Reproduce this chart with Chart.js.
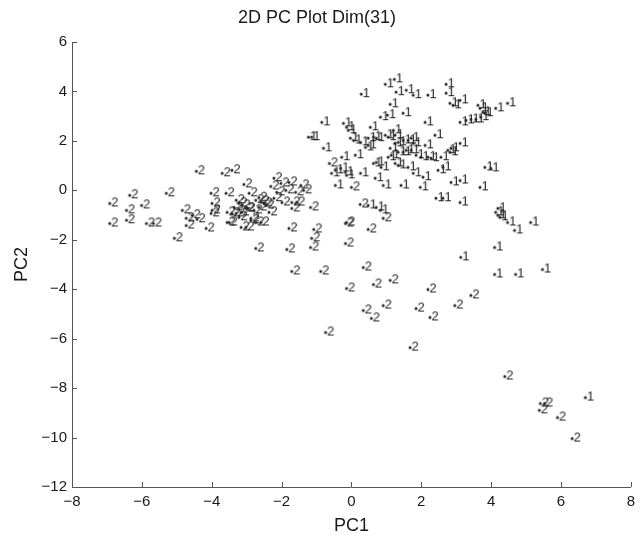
<!DOCTYPE html>
<html>
<head>
<meta charset="utf-8">
<script src="https://cdn.jsdelivr.net/npm/chart.js@4"></script>
<style>
  html, body { margin: 0; padding: 0; background: #fff; }
  #wrap { width: 641px; height: 538px; }
</style>
</head>
<body>
<div id="wrap"><canvas id="pcChart" width="641" height="538"></canvas></div>
<script>
// タイトル・軸ラベル
var chartTitle = "2D PC Plot Dim(31)";
var xLabel = "PC1";
var yLabel = "PC2";

// 目盛り
var xTicks = [-8, -6, -4, -2, 0, 2, 4, 6, 8];
var yTicks = [-12, -10, -8, -6, -4, -2, 0, 2, 4, 6];

// クラス1 (PC1, PC2)
var class1 = [
  [0.97,4.29],[1.23,4.49],[1.28,3.97],[1.57,4.05],[1.77,3.85],[2.19,3.85],[2.71,4.29],[2.71,3.93],
  [2.82,3.52],[2.91,3.44],[0.28,3.89],[1.11,3.48],[0.83,2.96],[1.03,3.04],[1.48,3.12],[2.11,2.75],
  [-0.85,2.75],[-1.23,2.15],[-1.14,2.15],[-0.23,2.71],[-0.14,2.55],[-0.09,2.43],[-0.03,2.11],
  [0.06,2.02],[0.26,1.94],[0.54,2.55],[0.48,2.11],[0.63,2.15],[0.71,2.11],[0.97,2.23],[1.05,2.15],
  [1.2,2.43],[1.25,2.23],[0.4,1.74],[0.48,1.82],[1.11,1.7],[1.25,1.9],[1.34,1.94],[1.48,2.02],
  [1.62,2.02],[1.71,2.11],[1.77,1.9],[1.14,1.42],[1.34,1.54],[1.48,1.54],[1.57,1.62],[1.71,1.62],
  [2.11,1.82],[2.39,2.23],[-0.8,1.7],[-0.28,1.34],[0.11,1.42],[-0.57,0.69],[-0.46,0.81],[-0.31,0.89],
  [-0.17,0.73],[-0.14,0.61],[0.26,0.69],[0.63,1.09],[0.71,1.13],[0.85,0.93],[1.05,1.34],[1.25,1.09],
  [1.34,1.01],[1.62,0.93],[1.85,1.42],[1.99,1.34],[2.19,1.34],[2.28,1.3],[2.56,1.34],[2.76,1.62],
  [2.85,1.7],[2.82,1.54],[2.48,0.81],[2.62,0.93],[1.77,0.69],[2.05,0.53],[0.68,0.49],[0.91,0.2],
  [1.42,0.2],[1.97,0.12],[-0.46,0.2],[2.42,-0.32],[2.62,-0.32],[2.85,0.32],[0.48,-0.61],[0.71,-0.69],
  [0.83,-0.81],[3.11,3.64],[3.62,3.44],[3.68,3.32],[3.76,3.16],[4.13,3.32],[4.47,3.52],[3.11,2.75],
  [3.28,2.83],[3.42,2.87],[3.56,2.87],[3.7,2.96],[3.82,3.12],[3.11,1.9],[3.82,0.93],[3.99,0.89],
  [3.11,0.4],[3.68,0.12],[3.11,-0.49],[4.13,-0.89],[4.19,-1.01],[4.19,-0.73],[4.25,-1.09],[4.47,-1.3],
  [4.67,-1.62],[5.13,-1.3],[4.1,-2.31],[3.13,-2.71],[4.1,-3.4],[4.7,-3.4],[5.47,-3.2],[6.7,-8.38]
];

// クラス2 (PC1, PC2)
var class2 = [
  [-6.92,-0.53],[-6.92,-1.34],[-6.35,-0.2],[-6.44,-0.81],[-6.44,-1.21],[-6.01,-0.61],[-5.87,-1.34],
  [-5.67,-1.34],[-5.3,-0.12],[-5.07,-1.94],[-4.44,0.77],[-4.84,-0.81],[-4.73,-1.13],[-4.56,-1.01],
  [-4.73,-1.42],[-4.42,-1.17],[-4.16,-1.54],[-4.02,-0.12],[-3.99,-0.53],[-3.99,-0.81],[-4.02,-0.93],
  [-3.7,0.69],[-3.42,0.81],[-3.59,-0.12],[-3.56,-0.89],[-3.5,-1.3],[-3.08,0.24],[-2.93,-0.12],
  [-3.3,-0.4],[-3.22,-0.53],[-3.13,-0.61],[-3.36,-0.69],[-3.42,-0.93],[-3.16,-0.89],[-3.22,-1.09],
  [-3.02,-0.73],[-2.88,-1.13],[-3.16,-1.5],[-3.02,-1.5],[-2.74,-2.35],[-2.79,-0.81],[-2.74,-0.4],
  [-2.65,-0.3],[-2.59,-0.45],[-2.5,-0.53],[-2.22,0.49],[-2.31,0.16],[-2.02,0.28],[-1.79,0.32],
  [-2.14,-0.08],[-1.88,0],[-1.45,0.2],[-1.37,0],[-1.6,-0.08],[-2.22,-0.32],[-1.99,-0.49],[-1.71,-0.49],
  [-1.57,-0.49],[-1.71,-0.73],[-1.17,-0.69],[-3.3,-0.93],[-2.99,-0.73],[-2.65,-0.69],[-2.45,-0.61],
  [-2.36,-0.89],[-3.56,-1.3],[-2.88,-1.21],[-2.74,-1.3],[-2.59,-1.3],[-1.79,-1.54],[-1.08,-1.58],
  [-1.14,-1.94],[-1.17,-2.31],[-1.85,-2.39],[-0.14,-1.3],[0.25,-0.57],[0,0.12],[-0.63,1.09],
  [0.91,-1.13],[-0.17,-1.34],[0.48,-1.58],[-0.17,-2.15],[0.34,-3.12],[-1.71,-3.28],[-0.88,-3.28],
  [-0.14,-3.97],[0.63,-3.81],[1.11,-3.64],[2.19,-4.01],[3.42,-4.25],[2.96,-4.66],[0.91,-4.66],
  [0.34,-4.86],[0.57,-5.18],[1.85,-4.78],[2.25,-5.14],[-0.74,-5.75],[1.68,-6.36],[4.39,-7.53],
  [5.41,-8.62],[5.53,-8.62],[5.38,-8.9],[5.9,-9.19],[6.32,-10.04]
];

var textColor = "#1a1a1a";
var axisColor = "#555";
var fontFamily = "'Liberation Sans', Arial, sans-serif";

// 点(・)と数字のマーカー画像を作る
function makeMarker(label){
    var c = document.createElement("canvas");
    c.width = 30;
    c.height = 20;
    var g = c.getContext("2d");
    g.fillStyle = "#222";
    g.beginPath();
    g.arc(15, 10, 1.5, 0, Math.PI * 2);
    g.fill();
    g.font = "13px " + fontFamily;
    g.textBaseline = "middle";
    g.fillText(label, 16.5, 9);
    return c;
}

function toXY(arr){
    return arr.map(function(p){ return {x: p[0], y: p[1]}; });
}

// マイナス記号を長めにする
function tickText(v){
    return v < 0 ? "\u2212" + Math.abs(v) : String(v);
}

// 内向きの目盛り線
var inwardTicks = {
    id: "inwardTicks",
    afterDraw: function(chart){
        var ctx = chart.ctx;
        var a = chart.chartArea;
        var xs = chart.scales.x, ys = chart.scales.y;
        ctx.save();
        ctx.strokeStyle = axisColor;
        ctx.lineWidth = 1;
        ctx.beginPath();
        xTicks.forEach(function(t){
            var px = Math.round(xs.getPixelForValue(t)) + 0.5;
            ctx.moveTo(px, a.bottom);
            ctx.lineTo(px, a.bottom - 5);
        });
        yTicks.forEach(function(t){
            var py = Math.round(ys.getPixelForValue(t)) + 0.5;
            ctx.moveTo(a.left, py);
            ctx.lineTo(a.left + 5, py);
        });
        ctx.stroke();
        ctx.restore();
    }
};

var ctx = document.getElementById("pcChart");
var pcChart = new Chart(ctx, {
    type: "scatter",
    data: {
        datasets: [{
            label: "1",
            data: toXY(class1),
            pointStyle: makeMarker("1"),
            pointRadius: 3
        }, {
            label: "2",
            data: toXY(class2),
            pointStyle: makeMarker("2"),
            pointRadius: 3
        }]
    },
    options: {
        responsive: false,
        animation: false,
        events: [],
        layout: { padding: { left: 0, right: 7, top: 0, bottom: 0 } },
        plugins: {
            legend: { display: false },
            tooltip: { enabled: false },
            title: {
                display: true,
                text: chartTitle,
                color: textColor,
                font: { family: fontFamily, size: 18, weight: "normal" },
                padding: { top: 7, bottom: 13.4 }
            }
        },
        scales: {
            x: {
                type: "linear",
                min: -8,
                max: 8,
                afterFit: function(s){ s.height = 51; },
                afterBuildTicks: function(s){ s.ticks = xTicks.map(function(v){ return {value: v}; }); },
                grid: { display: true, drawOnChartArea: false, drawTicks: false },
                border: { display: true, color: axisColor, width: 1 },
                ticks: {
                    color: textColor,
                    padding: 6,
                    font: { family: fontFamily, size: 15 },
                    callback: function(v){ return tickText(v); }
                },
                title: {
                    display: true,
                    text: xLabel,
                    color: textColor,
                    font: { family: fontFamily, size: 18 },
                    padding: { top: 0, bottom: 1 }
                }
            },
            y: {
                type: "linear",
                min: -12,
                max: 6,
                afterFit: function(s){ s.width = 72; },
                afterBuildTicks: function(s){ s.ticks = yTicks.map(function(v){ return {value: v}; }); },
                grid: { display: true, drawOnChartArea: false, drawTicks: false },
                border: { display: true, color: axisColor, width: 1 },
                ticks: {
                    color: textColor,
                    padding: 5,
                    font: { family: fontFamily, size: 15 },
                    callback: function(v){ return tickText(v); }
                },
                title: {
                    display: true,
                    text: yLabel,
                    color: textColor,
                    font: { family: fontFamily, size: 18 },
                    padding: { top: 11, bottom: 0 }
                }
            }
        }
    },
    plugins: [inwardTicks]
});
</script>
</body>
</html>
